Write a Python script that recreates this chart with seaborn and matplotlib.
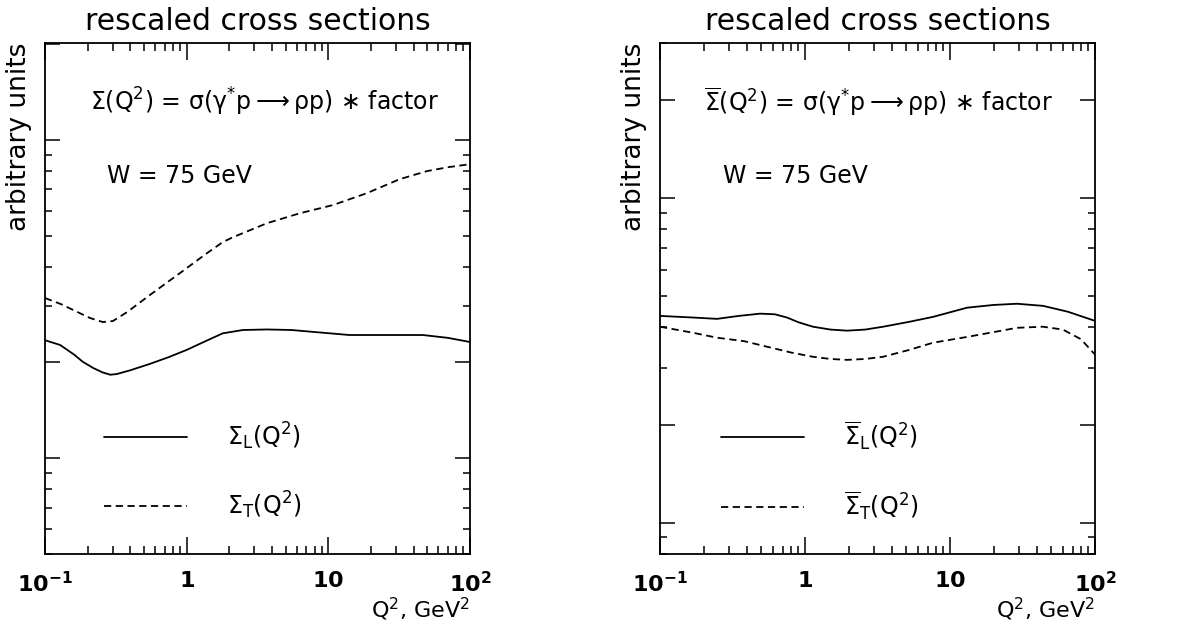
import numpy as np
import pandas as pd
import seaborn as sns
import matplotlib.pyplot as plt
from matplotlib.ticker import FixedLocator, LogLocator, NullFormatter

# values (Q^2 in GeV^2, cross sections in arbitrary units)
q2_left_L = [0.1, 0.128, 0.16, 0.185, 0.22, 0.256, 0.29, 0.322, 0.4, 0.551, 0.75, 1.0, 1.35, 1.8, 2.5,
             3.69, 5.5, 8.3, 14.1, 25, 46.5, 70, 100]
sig_left_L = [2.35, 2.27, 2.12, 2.01, 1.92, 1.86, 1.83, 1.84, 1.89, 1.98, 2.08, 2.19, 2.33, 2.47, 2.53,
              2.54, 2.53, 2.49, 2.44, 2.44, 2.44, 2.39, 2.32]

q2_left_T = [0.1, 0.13, 0.17, 0.208, 0.256, 0.302, 0.38, 0.551, 0.898, 1.39, 1.8, 2.12, 3.69, 6.3, 10.8,
             18.7, 32, 49.7, 70, 100]
sig_left_T = [3.19, 3.05, 2.88, 2.76, 2.68, 2.70, 2.88, 3.26, 3.82, 4.41, 4.78, 4.95, 5.48, 5.89, 6.25,
              6.81, 7.54, 7.99, 8.22, 8.40]

q2_right_L = [0.1, 0.17, 0.247, 0.35, 0.49, 0.62, 0.752, 0.9, 1.135, 1.5, 1.95, 2.6, 3.45, 5.2, 7.63,
              13.1, 20, 29, 43.8, 65, 100]
sig_right_L = [4.33, 4.28, 4.24, 4.33, 4.40, 4.38, 4.28, 4.14, 4.01, 3.93, 3.90, 3.93, 4.01, 4.15, 4.30,
               4.59, 4.68, 4.72, 4.65, 4.46, 4.18]

q2_right_T = [0.1, 0.17, 0.247, 0.38, 0.547, 0.8, 1.135, 1.5, 1.95, 2.6, 3.45, 5.2, 7.63, 13.1, 20, 29,
              43.8, 60, 80, 100]
sig_right_T = [4.01, 3.84, 3.71, 3.62, 3.48, 3.34, 3.24, 3.19, 3.17, 3.19, 3.24, 3.40, 3.58, 3.73, 3.86,
               3.98, 4.01, 3.93, 3.67, 3.29]

xtick_vals = [0.1, 1, 10, 100]
xtick_labels = [r'$\mathbf{10^{-1}}$', r'$\mathbf{1}$', r'$\mathbf{10}$', r'$\mathbf{10^{2}}$']

sns.set_style('ticks')
plt.rcParams['font.family'] = ['DejaVu Sans']
plt.rcParams['mathtext.fontset'] = 'dejavusans'
plt.rcParams['mathtext.default'] = 'regular'
plt.rcParams['text.color'] = 'black'
plt.rcParams['axes.labelcolor'] = 'black'


def make_df(q2_L, sig_L, q2_T, sig_T):
    a = pd.DataFrame({'Q2': q2_L, 'sigma': sig_L, 'comp': 'L'})
    b = pd.DataFrame({'Q2': q2_T, 'sigma': sig_T, 'comp': 'T'})
    return pd.concat([a, b], ignore_index=True)


def draw_panel(ax, df, ylim, bar):
    sns.lineplot(data=df, x='Q2', y='sigma', style='comp', dashes={'L': '', 'T': (4.0, 2.5)},
                 color='black', linewidth=1.3, legend=False, ax=ax, sort=False)
    ax.set_xscale('log')
    ax.set_yscale('log')
    ax.set_xlim(0.1, 100)
    ax.set_ylim(*ylim)

    ax.xaxis.set_major_locator(FixedLocator(xtick_vals))
    ax.set_xticklabels(xtick_labels)
    ax.xaxis.set_minor_locator(LogLocator(base=10, subs=range(2, 10)))
    ax.xaxis.set_minor_formatter(NullFormatter())
    ax.yaxis.set_major_locator(FixedLocator([1, 2, 10, 20]))
    ax.yaxis.set_major_formatter(NullFormatter())
    ax.yaxis.set_minor_locator(LogLocator(base=10, subs=range(2, 10)))
    ax.yaxis.set_minor_formatter(NullFormatter())

    ax.tick_params(which='both', direction='in', top=True, right=True, width=1.1, colors='black')
    ax.tick_params(axis='x', which='major', length=12, labelsize=16, pad=12)
    ax.tick_params(axis='x', which='minor', length=6)
    ax.tick_params(axis='y', which='major', length=11)
    ax.tick_params(axis='y', which='minor', length=5)
    for s in ax.spines.values():
        s.set_linewidth(1.3)
        s.set_color('black')

    ax.set_title('rescaled cross sections', fontsize=21.5, pad=9)
    ax.set_ylabel('arbitrary units', fontsize=19, loc='top', labelpad=6)
    ax.set_xlabel(r'Q$^2$, GeV$^2$', fontsize=16, loc='right', labelpad=0)

    S = r'\overline{\Sigma}' if bar else r'\Sigma'
    ax.text(0.105 if not bar else 0.10, 0.885,
            r'$' + S + r'(Q^2)$ = $\sigma(\gamma^{*}p \longrightarrow \rho p)$ $\ast$ factor',
            transform=ax.transAxes, fontsize=17, va='center', ha='left')
    ax.text(0.145, 0.74, 'W = 75 GeV', transform=ax.transAxes,
            fontsize=17, va='center', ha='left')

    labels = [r'$' + S + r'_{L}(Q^2)$', r'$' + S + r'_{T}(Q^2)$']
    ax.legend(ax.lines[:2], labels, loc='center left', bbox_to_anchor=(0.14, 0.163),
              frameon=False, fontsize=17, handlelength=3.5, handletextpad=1.7,
              labelspacing=1.6, borderpad=0, borderaxespad=0)


fig = plt.figure(figsize=(11.86, 6.25), dpi=100)
ax1 = fig.add_axes([0.0379, 0.1136, 0.3583, 0.8176])
ax2 = fig.add_axes([0.5565, 0.1136, 0.3668, 0.8176])

draw_panel(ax1, make_df(q2_left_L, sig_left_L, q2_left_T, sig_left_T), (0.5, 20.2), False)
draw_panel(ax2, make_df(q2_right_L, sig_right_L, q2_right_T, sig_right_T), (0.8, 30), True)

fig.savefig('out.png', dpi=100)
